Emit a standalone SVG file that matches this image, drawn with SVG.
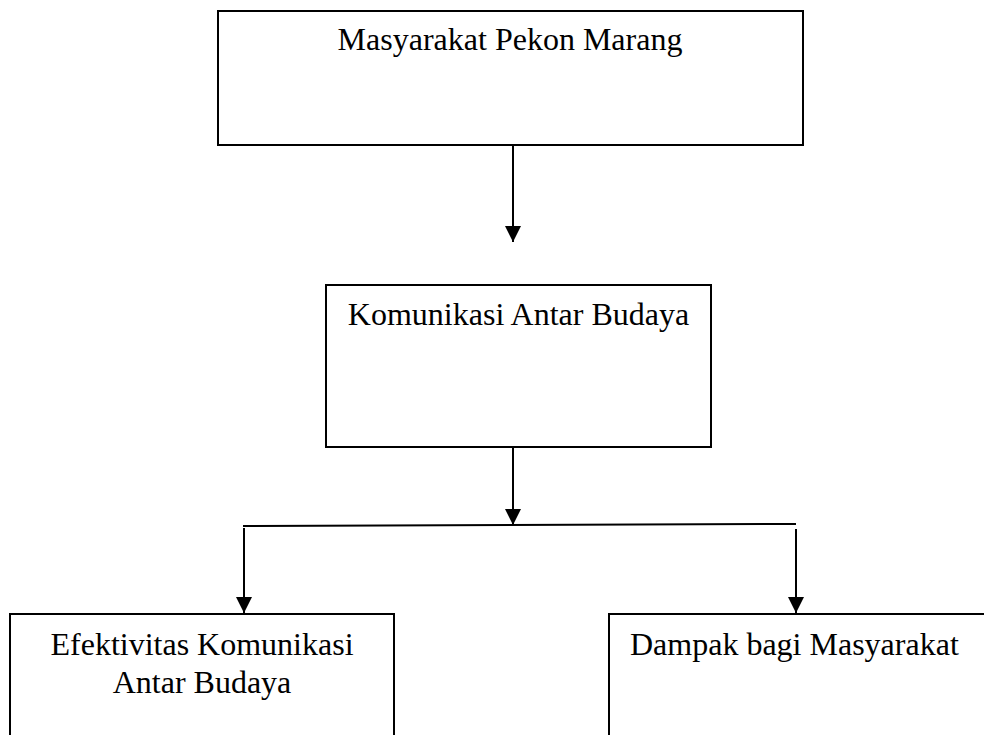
<svg xmlns="http://www.w3.org/2000/svg" width="984" height="735" viewBox="0 0 984 735">
<style>
.box{fill:#fff;stroke:#000;stroke-width:2}
.lbl{font-family:"Liberation Serif","Times New Roman",serif;font-size:32px;fill:#000}
.c{text-anchor:middle}
.ln{stroke:#000;stroke-width:2;fill:none}
</style>
<defs>
<marker id="ah" markerUnits="userSpaceOnUse" markerWidth="16" markerHeight="16" refX="16" refY="8" orient="auto">
<path d="M0,0 L16,8 L0,16 Z" fill="#000"/>
</marker>
</defs>
<rect width="984" height="735" fill="#fff"/>
<g id="n1">
<rect class="box" x="218" y="11" width="585" height="134"/>
<text class="lbl c" x="510" y="50">Masyarakat Pekon Marang</text>
</g>
<g id="n2">
<rect class="box" x="326" y="285" width="385" height="162"/>
<text class="lbl c" x="518.5" y="325">Komunikasi Antar Budaya</text>
</g>
<g id="n3">
<rect class="box" x="10" y="614" width="384" height="140"/>
<text class="lbl c" x="202" y="655">Efektivitas Komunikasi</text>
<text class="lbl c" x="202" y="693">Antar Budaya</text>
</g>
<g id="n4">
<rect class="box" x="609" y="614" width="400" height="140"/>
<text class="lbl" x="630" y="655">Dampak bagi Masyarakat</text>
</g>
<g id="connectors">
<line class="ln" x1="513" y1="145" x2="513" y2="242" marker-end="url(#ah)"/>
<line class="ln" x1="513" y1="447" x2="513" y2="525" marker-end="url(#ah)"/>
<line class="ln" x1="243" y1="526" x2="796" y2="524"/>
<line class="ln" x1="244" y1="528" x2="244" y2="613" marker-end="url(#ah)"/>
<line class="ln" x1="796" y1="529" x2="796" y2="613" marker-end="url(#ah)"/>
</g>
</svg>
